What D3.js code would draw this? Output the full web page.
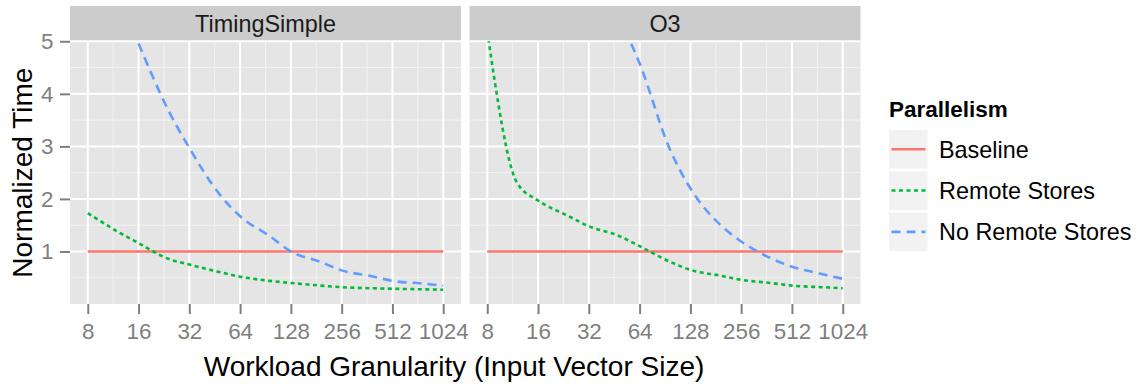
<!DOCTYPE html>
<html>
<head>
<meta charset="utf-8">
<script src="https://cdn.jsdelivr.net/npm/d3@7"></script>
<style>
  html, body { margin: 0; padding: 0; background: #fff; }
  svg { display: block; font-family: "Liberation Sans", Arial, Helvetica, sans-serif; }
</style>
</head>
<body>
<svg id="chart" width="1142" height="385"></svg>
<script>
// ---- data ----
const panels = ["TimingSimple", "O3"];
const sizes = [8, 12, 16, 24, 32, 48, 64, 96, 128, 192, 256, 384, 512, 768, 1024];
const xTicks = [8, 16, 32, 64, 128, 256, 512, 1024];
const yTicks = [1, 2, 3, 4, 5];
const yMinor = [0.5, 1.5, 2.5, 3.5, 4.5];
const seriesNames = ["Baseline", "Remote Stores", "No Remote Stores"];

const baselineTS = [1, 1, 1, 1, 1, 1, 1, 1, 1, 1, 1, 1, 1, 1, 1];
const remoteTS   = [1.73, 1.38, 1.16, 0.86, 0.75, 0.61, 0.52, 0.44, 0.40, 0.35, 0.32, 0.30, 0.29, 0.28, 0.27];
const noRemoteTS = [null, null, 4.96, 3.69, 2.97, 2.10, 1.67, 1.29, 1.00, 0.80, 0.64, 0.53, 0.44, 0.39, 0.35];

const baselineO3 = [1, 1, 1, 1, 1, 1, 1, 1, 1, 1, 1, 1, 1, 1, 1];
const remoteO3   = [5.19, 2.31, 1.97, 1.68, 1.48, 1.30, 1.10, 0.81, 0.65, 0.54, 0.46, 0.40, 0.35, 0.32, 0.30];
const noRemoteO3 = [null, null, null, null, null, 5.47, 4.58, 2.97, 2.20, 1.51, 1.19, 0.87, 0.71, 0.57, 0.48];

const panelData = {
  "TimingSimple": [baselineTS, remoteTS, noRemoteTS],
  "O3": [baselineO3, remoteO3, noRemoteO3]
};

// ---- styles ----
const colors = ["#F8766D", "#00BA38", "#619CFF"];
const dashes = [null, "4,3.5", "9,6"];
const lineW = 2.6;

const svg = d3.select("#chart");
const plotTop = 41.3, plotBottom = 304, stripTop = 6;
const panelX = [[70, 461], [469.5, 860.5]];

const y = d3.scaleLinear().domain([0, 5]).range([plotBottom, plotTop]);
const expand = Math.pow(2, 0.35);

const defs = svg.append("defs");

panels.forEach((name, pi) => {
  const [x0, x1] = panelX[pi];
  const x = d3.scaleLog().base(2).domain([8 / expand, 1024 * expand]).range([x0, x1]);
  const g = svg.append("g");

  // strip
  g.append("rect").attr("x", x0).attr("y", stripTop).attr("width", x1 - x0)
    .attr("height", plotTop - stripTop).attr("fill", "#CCCCCC");
  g.append("text").attr("x", (x0 + x1) / 2).attr("y", (stripTop + plotTop) / 2)
    .attr("dy", "0.36em").attr("text-anchor", "middle")
    .attr("font-size", 23.4).attr("fill", "#1A1A1A").text(name);

  // panel background
  g.append("rect").attr("x", x0).attr("y", plotTop).attr("width", x1 - x0)
    .attr("height", plotBottom - plotTop).attr("fill", "#E5E5E5");

  // minor grid
  const xMinor = xTicks.slice(0, -1).map(v => v * Math.SQRT2);
  g.selectAll(".ymin").data(yMinor).join("line")
    .attr("x1", x0).attr("x2", x1).attr("y1", d => y(d)).attr("y2", d => y(d))
    .attr("stroke", "#F2F2F2").attr("stroke-width", 1);
  g.selectAll(".xmin").data(xMinor).join("line")
    .attr("y1", plotTop).attr("y2", plotBottom).attr("x1", d => x(d)).attr("x2", d => x(d))
    .attr("stroke", "#F2F2F2").attr("stroke-width", 1);
  // major grid
  g.selectAll(".ymaj").data(yTicks).join("line")
    .attr("x1", x0).attr("x2", x1).attr("y1", d => y(d)).attr("y2", d => y(d))
    .attr("stroke", "#FFFFFF").attr("stroke-width", 2);
  g.selectAll(".xmaj").data(xTicks).join("line")
    .attr("y1", plotTop).attr("y2", plotBottom).attr("x1", d => x(d)).attr("x2", d => x(d))
    .attr("stroke", "#FFFFFF").attr("stroke-width", 2);

  // clip
  const cid = "clip" + pi;
  defs.append("clipPath").attr("id", cid).append("rect")
    .attr("x", x0).attr("y", plotTop).attr("width", x1 - x0).attr("height", plotBottom - plotTop);

  const line = d3.line()
    .defined(d => d[1] != null)
    .curve(d3.curveMonotoneX)
    .x(d => x(d[0])).y(d => y(d[1]));

  const lg = g.append("g").attr("clip-path", `url(#${cid})`);
  panelData[name].forEach((vals, si) => {
    const pts = sizes.map((s, i) => [s, vals[i]]);
    lg.append("path").attr("d", line(pts)).attr("fill", "none")
      .attr("stroke", colors[si]).attr("stroke-width", lineW)
      .attr("stroke-dasharray", dashes[si]);
  });

  // x axis
  const xAxis = d3.axisBottom(x).tickValues(xTicks).tickFormat(d3.format("d"))
    .tickSize(10).tickPadding(9);
  const xa = svg.append("g").attr("transform", `translate(0,${plotBottom})`).call(xAxis);
  xa.select(".domain").remove();
  xa.selectAll(".tick line").attr("stroke", "#7F7F7F").attr("stroke-width", 2);
  xa.selectAll(".tick text").attr("fill", "#7F7F7F").attr("font-size", 22.4)
    .attr("font-family", "Liberation Sans, Arial, sans-serif");

  if (pi === 0) {
    const yAxis = d3.axisLeft(y).tickValues(yTicks).tickFormat(d3.format("d"))
      .tickSize(10).tickPadding(6.5);
    const ya = svg.append("g").attr("transform", `translate(${x0},0)`).call(yAxis);
    ya.select(".domain").remove();
    ya.selectAll(".tick line").attr("stroke", "#7F7F7F").attr("stroke-width", 2);
    ya.selectAll(".tick text").attr("fill", "#7F7F7F").attr("font-size", 22.4)
      .attr("font-family", "Liberation Sans, Arial, sans-serif");
  }
});

// axis titles
svg.append("text").attr("x", 454).attr("y", 376).attr("text-anchor", "middle")
  .attr("font-size", 28).attr("fill", "#000").text("Workload Granularity (Input Vector Size)");
svg.append("text").attr("transform", `translate(32,${(plotTop + plotBottom) / 2}) rotate(-90)`)
  .attr("text-anchor", "middle").attr("font-size", 28).attr("fill", "#000").text("Normalized Time");

// legend
const leg = svg.append("g");
leg.append("text").attr("x", 889).attr("y", 117).attr("font-size", 22.5)
  .attr("font-weight", "bold").attr("fill", "#000").text("Parallelism");
seriesNames.forEach((nm, i) => {
  const ky = 130 + i * 41.3;
  leg.append("rect").attr("x", 889).attr("y", ky).attr("width", 38.5).attr("height", 38.5)
    .attr("fill", "#F2F2F2");
  leg.append("line").attr("x1", 891.5).attr("x2", 925.5)
    .attr("y1", ky + 19.25).attr("y2", ky + 19.25)
    .attr("stroke", colors[i]).attr("stroke-width", lineW)
    .attr("stroke-dasharray", dashes[i]);
  leg.append("text").attr("x", 939).attr("y", ky + 19.25).attr("dy", "0.36em")
    .attr("font-size", 23.4).attr("fill", "#000").text(nm);
});
</script>
</body>
</html>
